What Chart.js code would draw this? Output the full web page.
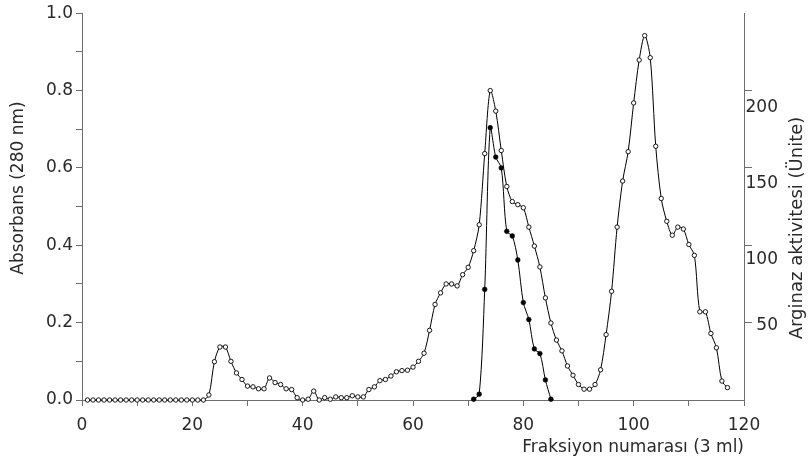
<!DOCTYPE html>
<html>
<head>
<meta charset="utf-8">
<script src="https://cdn.jsdelivr.net/npm/chart.js@4.4.1/dist/chart.umd.min.js"></script>
<style>
  html, body { margin: 0; padding: 0; background: #ffffff; }
  #wrap { width: 808px; height: 463px; position: relative; }
</style>
</head>
<body>
<div id="wrap"><canvas id="c" width="808" height="463"></canvas></div>
<script>
// ---- Data ----
const xAxisTitle = 'Fraksiyon numarası (3 ml)';
const leftAxisTitle = 'Absorbans (280 nm)';
const rightAxisTitle = 'Arginaz aktivitesi (Ünite)';

const xTickMax = 120;
const leftTickMax = 1.0;
const rightTickMax = 250;
const rightTickValues = [50, 100, 150, 200];

// Absorbance (open circles), fractions 1..117
const absorbanceFirstFraction = 1;
const absorbance = [
  0, 0, 0, 0, 0, 0, 0, 0, 0, 0,
  0, 0, 0, 0, 0, 0, 0, 0, 0, 0,
  0, 0, 0.013, 0.099, 0.137, 0.137, 0.10, 0.07, 0.053, 0.036,
  0.034, 0.029, 0.029, 0.057, 0.045, 0.04, 0.029, 0.027, 0.006, 0,
  0.002, 0.023, 0, 0.006, 0.002, 0.008, 0.006, 0.006, 0.011, 0.008,
  0.008, 0.027, 0.034, 0.05, 0.053, 0.062, 0.073, 0.076, 0.077, 0.085,
  0.10, 0.121, 0.18, 0.247, 0.277, 0.30, 0.30, 0.295, 0.324, 0.343,
  0.386, 0.453, 0.637, 0.80, 0.747, 0.645, 0.552, 0.513, 0.505, 0.497,
  0.447, 0.398, 0.344, 0.264, 0.199, 0.155, 0.127, 0.088, 0.064, 0.04,
  0.028, 0.028, 0.04, 0.078, 0.169, 0.281, 0.447, 0.566, 0.642, 0.768,
  0.879, 0.942, 0.885, 0.656, 0.521, 0.462, 0.426, 0.447, 0.442, 0.402,
  0.374, 0.228, 0.228, 0.172, 0.135, 0.049, 0.032
];

// Arginase activity (filled circles), fractions 71..85
const arginaseFractions = [71, 72, 73, 74, 75, 76, 77, 78, 79, 80, 81, 82, 83, 84, 85];
const arginase = [0.5, 3.75, 71.5, 176, 157, 150, 109, 106, 90.5, 63, 52, 33, 30, 13, 0.5];

// ---- Build datasets ----
const absorbancePoints = absorbance.map((v, i) => ({ x: absorbanceFirstFraction + i, y: v }));
const arginasePoints = arginaseFractions.map((f, i) => ({ x: f, y: arginase[i] }));

const FONT = '"DejaVu Sans", "Liberation Sans", sans-serif';
const TEXT = '#2a2a2a';
const AXIS = '#6e6e6e';

// right-axis label vertical shifts (as in the reference print)
const rightLabelShift = { 50: 3, 100: 14, 150: 16, 200: 17 };

const customText = {
  id: 'customText',
  afterDraw(chart) {
    const ctx = chart.ctx;
    const y1 = chart.scales.y1;
    ctx.save();
    ctx.font = '17px ' + FONT;
    ctx.fillStyle = TEXT;
    // right tick labels
    ctx.textAlign = 'right';
    ctx.textBaseline = 'middle';
    rightTickValues.forEach(v => {
      const py = y1.getPixelForValue(v) + (rightLabelShift[v] || 0);
      ctx.fillText(String(v), y1.left + 34, py);
    });
    // left title
    ctx.textAlign = 'center';
    ctx.save();
    ctx.translate(19, 188);
    ctx.rotate(-Math.PI / 2);
    ctx.fillText(leftAxisTitle, 0, 0);
    ctx.restore();
    // right title
    ctx.font = '18px ' + FONT;
    ctx.save();
    ctx.translate(797, 228);
    ctx.rotate(-Math.PI / 2);
    ctx.fillText(rightAxisTitle, 0, 0);
    ctx.restore();
    ctx.restore();
  }
};

new Chart(document.getElementById('c'), {
  type: 'line',
  data: {
    datasets: [
      {
        label: 'Absorbans',
        data: absorbancePoints,
        yAxisID: 'y',
        borderColor: '#000',
        borderWidth: 1,
        backgroundColor: '#fff',
        pointBackgroundColor: '#fff',
        pointBorderColor: '#000',
        pointBorderWidth: 0.9,
        pointRadius: 2.2,
        tension: 0.3,
        fill: false,
        clip: false
      },
      {
        label: 'Arginaz',
        data: arginasePoints,
        yAxisID: 'y1',
        borderColor: '#000',
        borderWidth: 1,
        backgroundColor: '#000',
        pointBackgroundColor: '#000',
        pointBorderColor: '#000',
        pointBorderWidth: 0.5,
        pointRadius: 2.4,
        tension: 0.3,
        fill: false,
        clip: false
      }
    ]
  },
  options: {
    responsive: false,
    animation: false,
    devicePixelRatio: 1,
    layout: { padding: { top: 12, left: 0, right: 0, bottom: 0 } },
    plugins: {
      legend: { display: false },
      tooltip: { enabled: false },
      title: { display: false }
    },
    scales: {
      x: {
        type: 'linear',
        position: 'bottom',
        min: 0,
        max: xTickMax,
        afterFit: s => { s.height = 63; },
        border: { display: true, color: AXIS, width: 1 },
        grid: { display: true, drawOnChartArea: false, drawTicks: true, tickLength: 6, tickColor: AXIS },
        ticks: {
          stepSize: 10,
          maxRotation: 0,
          autoSkip: false,
          padding: 9,
          color: TEXT,
          font: { family: FONT, size: 17 },
          callback: v => (Math.round(v) % 20 === 0 ? String(Math.round(v)) : '')
        },
        title: {
          display: true,
          text: xAxisTitle,
          align: 'end',
          color: TEXT,
          font: { family: FONT, size: 17 },
          padding: { top: 0, bottom: 5 }
        }
      },
      y: {
        type: 'linear',
        position: 'left',
        min: 0,
        max: leftTickMax,
        afterFit: s => { s.width = 82; },
        border: { display: true, color: AXIS, width: 1 },
        grid: { display: true, drawOnChartArea: false, drawTicks: true, tickLength: 6, tickColor: AXIS },
        ticks: {
          stepSize: 0.1,
          autoSkip: false,
          padding: 3,
          color: TEXT,
          font: { family: FONT, size: 17 },
          callback: v => (Math.round(v * 10) % 2 === 0 ? Number(v).toFixed(1) : '')
        }
      },
      y1: {
        type: 'linear',
        position: 'right',
        min: 0,
        max: rightTickMax,
        afterFit: s => { s.width = 64; },
        afterBuildTicks: s => { s.ticks = rightTickValues.map(v => ({ value: v })); },
        border: { display: true, color: AXIS, width: 1 },
        grid: { display: true, drawOnChartArea: false, drawTicks: true, tickLength: 8, tickColor: AXIS },
        ticks: { display: false }
      }
    }
  },
  plugins: [customText]
});
</script>
</body>
</html>
